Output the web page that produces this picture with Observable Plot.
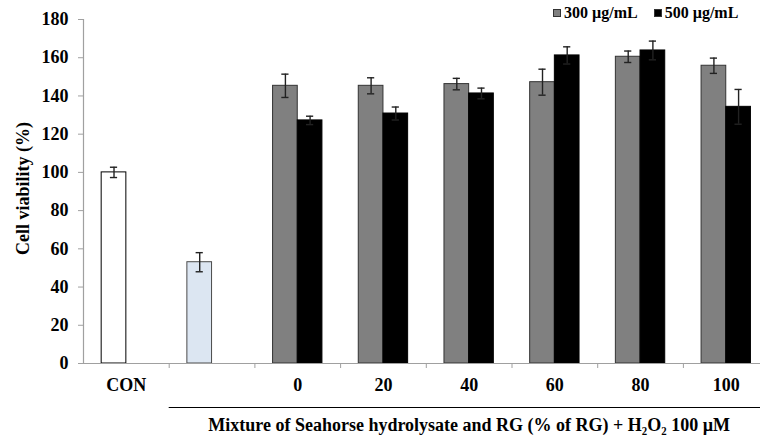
<!DOCTYPE html>
<html>
<head>
<meta charset="utf-8">
<script src="https://cdn.jsdelivr.net/npm/d3@7"></script>
<script src="https://cdn.jsdelivr.net/npm/@observablehq/plot@0.6"></script>
<style>
  html, body { margin: 0; padding: 0; background: #fff; }
  #wrap { position: relative; width: 760px; height: 435px; font-family: "Liberation Serif", "Times New Roman", serif; }
  #legend { position: absolute; top: 4px; left: 553px; display: flex; gap: 16px; font-weight: bold; font-size: 16px; color: #000; }
  #legend span.sw { display: inline-block; box-sizing: border-box; width: 8px; height: 8px; margin-right: 3px; border: 1px solid #333; vertical-align: 1px; }
</style>
</head>
<body>
<div id="wrap"><div id="legend"></div></div>
<script>
// ---- data ----
const categories = ["CON", "", "0", "20", "40", "60", "80", "100"];
const singleValues = [100.0, 53.0];      // CON, H2O2 only
const singleErrors = [2.7, 5.0];
const seriesNames = ["300 µg/mL", "500 µg/mL"];
const series300 = [145.3, 145.3, 146.2, 147.2, 160.5, 155.8];
const err300 = [6.1, 4.2, 3.0, 6.8, 3.0, 4.0];
const series500 = [127.2, 130.8, 141.3, 161.2, 163.8, 134.3];
const err500 = [2.2, 3.4, 2.8, 4.5, 4.9, 9.1];
const yTicks = [0, 20, 40, 60, 80, 100, 120, 140, 160, 180];
const yTitle = "Cell viability (%)";
const xTitle = "Mixture of Seahorse hydrolysate and RG (% of RG) + H₂O₂ 100 µM";

// ---- styles ----
const singleFills = ["#ffffff", "#dce6f2"];
const singleStrokes = ["#000000", "#4a4a4a"];
const seriesFills = ["#808080", "#000000"];
const barW = 0.288;   // bar width in slot units
const capW = 0.042;   // half error cap width in slot units
const font = "Liberation Serif, Times New Roman, serif";

// ---- table ----
const rows = [];
singleValues.forEach((v, i) => rows.push({slot: i, pos: 0, value: v, err: singleErrors[i], fill: singleFills[i], stroke: singleStrokes[i]}));
series300.forEach((v, i) => rows.push({slot: i + 2, pos: 0, value: v, err: err300[i], fill: seriesFills[0], stroke: "#333"}));
series500.forEach((v, i) => rows.push({slot: i + 2, pos: 1, value: v, err: err500[i], fill: seriesFills[1], stroke: "#000"}));
const x1 = d => d.slot + 0.5 - barW + d.pos * barW;
const x2 = d => d.slot + 0.5 + d.pos * barW;
const cx = d => d.slot + 0.5 - barW / 2 + d.pos * barW;

const n = categories.length;
const chart = Plot.plot({
  width: 760,
  height: 435,
  marginLeft: 83,
  marginRight: 0,
  marginTop: 19,
  marginBottom: 72,
  style: {fontFamily: font, background: "transparent"},
  x: {type: "linear", domain: [0, n], range: [83, 83 + n * 85.7]},
  y: {domain: [0, 180]},
  marks: [
    Plot.rectY(rows, {x1, x2, y1: 0, y2: "value", fill: "fill", stroke: "stroke", strokeWidth: 1}),
    Plot.ruleX(rows, {x: cx, y1: d => d.value - d.err, y2: d => d.value + d.err, stroke: "#222", strokeWidth: 1.4}),
    Plot.ruleY(rows, {x1: d => cx(d) - capW, x2: d => cx(d) + capW, y: d => d.value + d.err, stroke: "#222", strokeWidth: 1.4}),
    Plot.ruleY(rows, {x1: d => cx(d) - capW, x2: d => cx(d) + capW, y: d => d.value - d.err, stroke: "#222", strokeWidth: 1.4}),
    Plot.ruleY([0], {stroke: "#a0a0a0", strokeWidth: 1.2}),
    Plot.ruleX([0], {stroke: "#a0a0a0", strokeWidth: 1.2}),
    Plot.axisY({ticks: yTicks, tickSize: 5, tickPadding: 10, stroke: "#a0a0a0", fill: "#000", fontSize: 18, fontWeight: "bold", label: null}),
    Plot.axisX({ticks: d3.range(1, n), tickSize: 5, stroke: "#a0a0a0", text: null, label: null}),
    Plot.axisX({ticks: d3.range(n).map(i => i + 0.5), tickFormat: d => categories[Math.floor(d)], tickSize: 0, tickPadding: 15, fill: "#000", fontSize: 18, fontWeight: "bold", label: null}),
    Plot.text([yTitle], {frameAnchor: "left", textAnchor: "middle", dx: -60, dy: -3, rotate: -90, fontSize: 18, fontWeight: "bold", fill: "#000"}),
    Plot.ruleY([0], {x1: 1, x2: n, dy: 44, stroke: "#000", strokeWidth: 1.2}),
    Plot.text([xTitle], {x: (1 + n) / 2, y: 0, dy: 62, text: d => d, fontSize: 18, fontWeight: "bold", fill: "#000", lineAnchor: "middle"})
  ]
});
const wrap = document.getElementById("wrap");
wrap.insertBefore(chart, wrap.firstChild);

const legend = document.getElementById("legend");
seriesNames.forEach((name, i) => {
  const item = document.createElement("div");
  const sw = document.createElement("span");
  sw.className = "sw";
  sw.style.background = seriesFills[i];
  item.appendChild(sw);
  item.appendChild(document.createTextNode(name));
  legend.appendChild(item);
});
</script>
</body>
</html>
